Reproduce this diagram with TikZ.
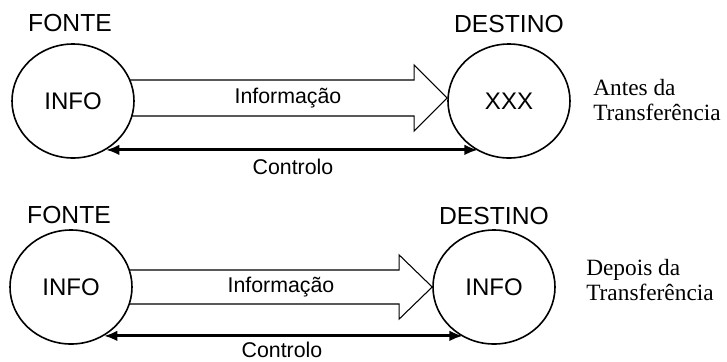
\documentclass[tikz,border=0pt]{standalone}
\usepackage{fontspec}
\setmainfont{Liberation Serif}
\setsansfont{Liberation Sans}
\usetikzlibrary{shapes.geometric,arrows.meta}
\pgfdeclarelayer{bg}
\pgfsetlayers{bg,main}
\tikzset{
  place/.style={ellipse, draw, line width=1.2pt, fill=white, minimum width=91.5pt, minimum height=85.5pt, inner sep=0pt, font=\sffamily\fontsize{18}{18}\selectfont},
  rolename/.style={inner sep=0pt, font=\sffamily\fontsize{18.5}{18.5}\selectfont},
  flowtext/.style={inner sep=0pt, font=\sffamily\fontsize{16}{16}\selectfont},
  note/.style={inner sep=0pt, anchor=west, align=left, font=\fontsize{17.5}{19}\selectfont},
  infoarrow/.style={draw, line width=0.8pt, line join=miter},
  ctrlarrow/.style={line width=2.4pt, {Latex[length=10pt,width=8pt]}-{Latex[length=10pt,width=8pt]}}
}
\begin{document}
\begin{tikzpicture}[x=0.75pt,y=-0.75pt]
\useasboundingbox (0,0) rectangle (727,361);
\node[place] (fnt0) at (73,101){INFO};
\node[place] (dst0) at (509,101){XXX};
\node[rolename] (lfnt0) at (70,23){FONTE};
\node[rolename] (ldst0) at (509,24){DESTINO};
\coordinate (tip0) at ([yshift=2.25pt]dst0.west);
\begin{pgfonlayer}{bg}
\draw[infoarrow] (tip0) -- ++(-33,-33) -- ++(0,15) coordinate (t0) -- (t0 -| fnt0.center) -- ++(0,36) coordinate (b0) -- (b0 -| t0) -- ++(0,15) -- cycle;
\end{pgfonlayer}
\node[flowtext] (linfo0) at (288,98){Informação};
\draw[ctrlarrow] (fnt0.-56) -- (dst0.-122 |- fnt0.-56);
\node[flowtext] (lctrl0) at (293,167){Controlo};
\node[note] (note0) at (593,100){Antes da\\Transferência};
\node[place] (fnt1) at (71,287){INFO};
\node[place] (dst1) at (494,287){INFO};
\node[rolename] (lfnt1) at (69,215){FONTE};
\node[rolename] (ldst1) at (494,216){DESTINO};
\coordinate (tip1) at (dst1.west);
\begin{pgfonlayer}{bg}
\draw[infoarrow] (tip1) -- ++(-33,-32) -- ++(0,15) coordinate (t1) -- (t1 -| fnt1.center) -- ++(0,34) coordinate (b1) -- (b1 -| t1) -- ++(0,15) -- cycle;
\end{pgfonlayer}
\node[flowtext] (linfo1) at (281,287){Informação};
\draw[ctrlarrow] (fnt1.-56) -- (dst1.-122 |- fnt1.-56);
\node[flowtext] (lctrl1) at (282,350){Controlo};
\node[note] (note1) at (586,280){Depois da\\Transferência};
\end{tikzpicture}
\end{document}
